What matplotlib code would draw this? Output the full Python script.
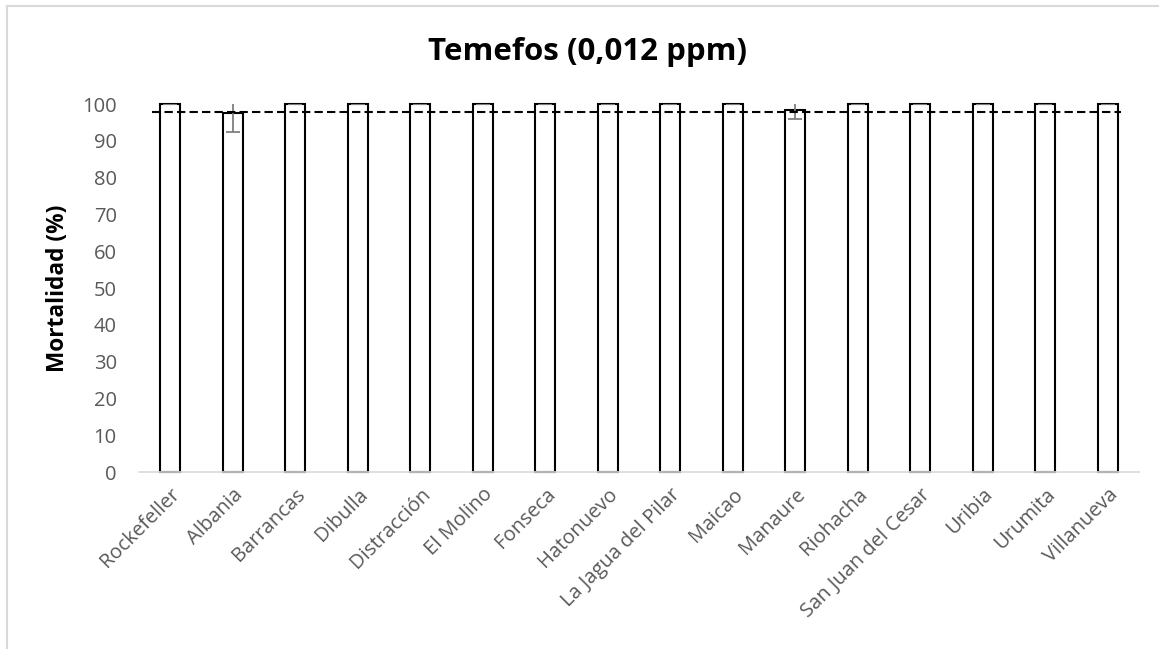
import matplotlib
matplotlib.use("Agg")
import matplotlib.pyplot as plt
import numpy as np

# datos
sitios = ["Rockefeller", "Albania", "Barrancas", "Dibulla", "Distracción",
          "El Molino", "Fonseca", "Hatonuevo", "La Jagua del Pilar", "Maicao",
          "Manaure", "Riohacha", "San Juan del Cesar", "Uribia", "Urumita",
          "Villanueva"]
mortalidad = [100, 97.5, 100, 100, 100, 100, 100, 100, 100, 100,
              98.4, 100, 100, 100, 100, 100]
error = [0, 5.2, 0, 0, 0, 0, 0, 0, 0, 0, 2.5, 0, 0, 0, 0, 0]
umbral = 97.7

plt.rcParams['font.family'] = ['Open Sans', 'DejaVu Sans']

fig = plt.figure(figsize=(11.59, 6.49), dpi=100)
ax = fig.add_axes([139/1159, 177/649, 1000/1159, 368/649])

x = np.arange(len(sitios))
bars = ax.bar(x, mortalidad, width=0.32, color='white', edgecolor='black',
              linewidth=1.5, zorder=2)
for b in bars:
    b.set_clip_on(False)
ax.errorbar(x, mortalidad, yerr=error, fmt='none', ecolor='#7f7f7f',
            elinewidth=1.3, capsize=5, capthick=1.3, zorder=3)

# linea de referencia
ax.plot([-0.29, len(sitios) - 0.79], [umbral, umbral], color='black',
        lw=1.5, dashes=(4, 2), zorder=4, clip_on=False)

ax.set_xlim(-0.5, len(sitios) - 0.5)
ax.set_ylim(0, 100)
ax.set_yticks(np.arange(0, 101, 10))
ax.set_xticks(x)
ax.set_xticklabels(sitios, rotation=45, ha='right', va='top',
                   rotation_mode='anchor')
ax.tick_params(axis='both', length=0, labelsize=14.5, colors='#595959')
ax.tick_params(axis='x', pad=9)
ax.tick_params(axis='y', pad=16)

for s in ['left', 'right', 'top']:
    ax.spines[s].set_visible(False)
ax.spines['bottom'].set_color('#d9d9d9')
ax.spines['bottom'].set_linewidth(1.2)

ax.set_ylabel("Mortalidad (%)", fontsize=16.3, fontweight='bold', labelpad=9)
fig.text(588/1159, 1 - 52/649, "Temefos (0,012 ppm)", ha='center',
         va='center', fontsize=22.5, fontweight='bold')

# borde del area del grafico
fig.add_artist(plt.Line2D([6.5/1159, 6.5/1159], [0, 1 - 6/649],
                          color='#d9d9d9', lw=1.5))
fig.add_artist(plt.Line2D([6.5/1159, 1], [1 - 6/649, 1 - 6/649],
                          color='#d9d9d9', lw=1.5))

fig.savefig("out.png", dpi=100)
